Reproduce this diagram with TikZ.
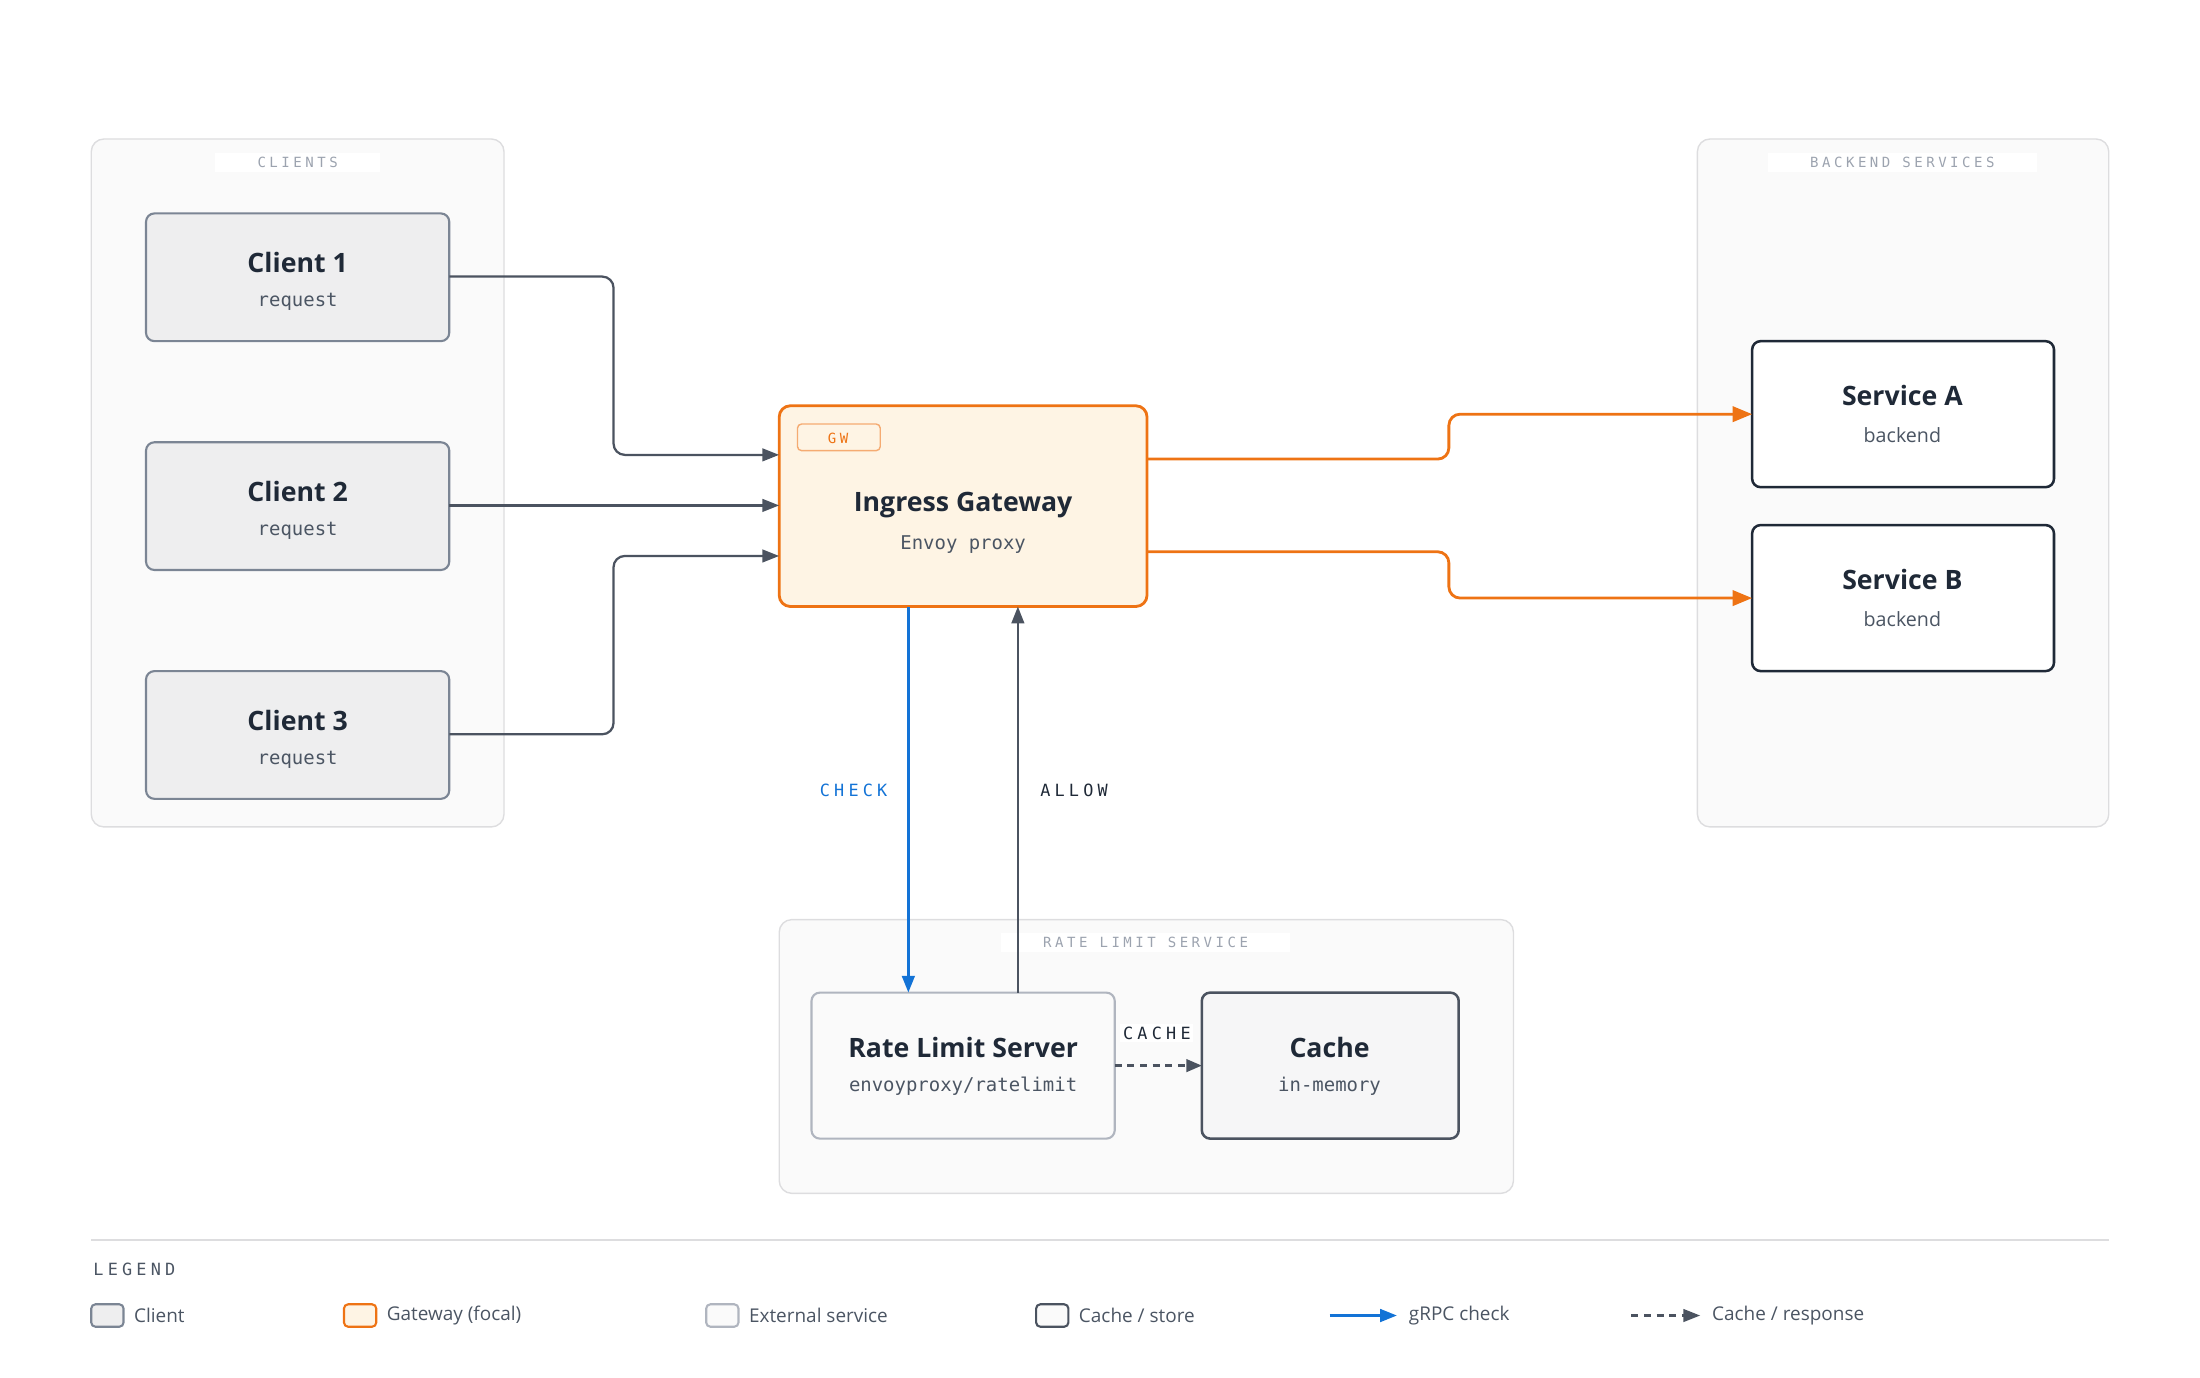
\documentclass[tikz,border=0pt]{standalone}
\usepackage{fontspec}
\setmainfont{Open Sans}
\newfontfamily\mon{DejaVu Sans Mono}
\newfontfamily\monsp{DejaVu Sans Mono}[LetterSpace=25]
\usetikzlibrary{arrows.meta}
\definecolor{ink}{HTML}{1F2937}
\definecolor{sub}{HTML}{4B5563}
\definecolor{edge}{HTML}{4B5360}
\definecolor{cborder}{HTML}{7B8594}
\definecolor{cfill}{HTML}{EEEEEF}
\definecolor{orng}{HTML}{EE7314}
\definecolor{ofill}{HTML}{FEF4E4}
\definecolor{blu}{HTML}{1373D6}
\definecolor{grp}{HTML}{DDDDDF}
\definecolor{grpfill}{HTML}{FAFAFA}
\definecolor{lbl}{HTML}{9CA3AF}
\begin{document}
\begin{tikzpicture}[x=1pt,y=-1pt,
 grpbox/.style={draw=grp,fill=grpfill,rounded corners=9,line width=1},
 grplbl/.style={fill=white,text=lbl,font=\monsp\fontsize{10}{12}\selectfont,inner xsep=30,inner ysep=3},
 client/.style={draw=cborder,fill=cfill,rounded corners=6,line width=1.5},
 title/.style={font=\fontsize{19}{23}\selectfont\bfseries,text=ink},
 subt/.style={font=\mon\fontsize{13.5}{16}\selectfont,text=sub},
 subs/.style={font=\fontsize{14}{16}\selectfont,text=sub},
 arr/.style={draw=edge,line width=1.6,rounded corners=8,-{Triangle[length=12,width=9]}},
 oarr/.style={draw=orng,line width=2,rounded corners=8,-{Triangle[length=14,width=11]}},
 elbl/.style={font=\monsp\fontsize{12}{14}\selectfont},
 leg/.style={font=\fontsize{13.5}{16}\selectfont,text=sub,anchor=west}]
\useasboundingbox (0,0) rectangle (1567,981.5);
% groups
\draw[grpbox] (65,99) rectangle (359,589);
\node[grplbl] (gc) at (212,116) {CLIENTS};
\draw[grpbox] (1209,99) rectangle (1502,589);
\node[grplbl] (gb) at (1355,116) {BACKEND SERVICES};
\draw[grpbox] (555,655) rectangle (1078,850);
\node[grplbl] (gr) at (816,671) {RATE LIMIT SERVICE};
% clients
\foreach \i/\y in {1/152,2/315,3/478}{
 \draw[client] (104,\y) rectangle (320,\y+91);
 \node[title] at (212,\y+35) {Client \i};
 \node[subt] at (212,\y+63) {request};
 \coordinate (c\i) at (320,\y+45);
}
% gateway
\draw[draw=orng,fill=ofill,rounded corners=8,line width=2] (555,289) rectangle (817,432);
\draw[draw=orng!60,fill=ofill,rounded corners=3,line width=1] (568,302) rectangle (627,321);
\node[text=orng,font=\monsp\fontsize{10}{12}\selectfont] (gw) at (597,312) {GW};
\node[title] (ig) at (686,360) {Ingress Gateway};
\node[subt] (ep) at (686,388) {Envoy proxy};
\coordinate (g1) at (555,324); \coordinate (g2) at (555,360); \coordinate (g3) at (555,396);
\coordinate (go1) at (817,327); \coordinate (go2) at (817,393);
% services
\draw[draw=ink,fill=white,rounded corners=6,line width=1.8] (1248,243) rectangle (1463,347);
\node[title] (sa) at (1355,282) {Service A};
\node[subs] at (1355,310) {backend};
\draw[draw=ink,fill=white,rounded corners=6,line width=1.8] (1248,374) rectangle (1463,478);
\node[title] (sb) at (1355,413) {Service B};
\node[subs] at (1355,441) {backend};
\coordinate (sA) at (1248,295); \coordinate (sB) at (1248,426);
% rate limit
\draw[draw=lbl!80,fill=grpfill,rounded corners=6,line width=1.5] (578,707) rectangle (794,811);
\node[title] (rls) at (686,746) {Rate Limit Server};
\node[subt] at (686,774) {envoyproxy/ratelimit};
\draw[draw=edge,fill=grpfill!70!cfill,rounded corners=6,line width=1.8] (856,707) rectangle (1039,811);
\node[title] (cache) at (947,746) {Cache};
\node[subt] at (947,774) {in-memory};
% connectors
\draw[arr] (c1) -- (437,197) -- (437,324) -- (g1);
\draw[arr] (c2) -- (g2);
\draw[arr] (c3) -- (437,523) -- (437,396) -- (g3);
\draw[oarr] (go1) -- (1032,327) -- (1032,295) -- (sA);
\draw[oarr] (go2) -- (1032,393) -- (1032,426) -- (sB);
\coordinate (ck0) at (647,432); \coordinate (ck1) at (647,707);
\coordinate (al0) at (725,707); \coordinate (al1) at (725,432);
\draw[draw=blu,line width=2,-{Triangle[length=12,width=9]}] (ck0) -- (ck1);
\draw[arr] (al0) -- (al1);
\node[elbl,text=blu] (chk) at (608,563) {CHECK};
\node[elbl,text=ink] (alw) at (765,563) {ALLOW};
\coordinate (d0) at (794,759); \coordinate (d1) at (856,759);
\draw[draw=edge,line width=1.6,dash pattern=on 5 off 4,-{Triangle[length=11,width=9]}] (d0) -- (d1);
\node[elbl,text=ink,fill=white,inner sep=2] (cl) at (824,736) {CACHE};
% legend
\draw[grp,line width=1.5] (65,883) -- (1502,883);
\node[anchor=west,font=\monsp\fontsize{12}{14}\selectfont,text=sub] (lg) at (63,904) {LEGEND};
\draw[draw=cborder,fill=cfill,rounded corners=3,line width=1.5] (65,929) rectangle (88,945);
\node[leg] at (92,937) {Client};
\draw[draw=orng,fill=ofill,rounded corners=3,line width=1.5] (245,929) rectangle (268,945);
\node[leg] at (272,937) {Gateway (focal)};
\draw[draw=lbl!80,fill=grpfill,rounded corners=3,line width=1.5] (503,929) rectangle (526,945);
\node[leg] at (530,937) {External service};
\draw[draw=edge,fill=grpfill,rounded corners=3,line width=1.5] (738,929) rectangle (761,945);
\node[leg] at (765,937) {Cache / store};
\coordinate (l1) at (947,937); \coordinate (l2) at (995,937);
\draw[draw=blu,line width=2,-{Triangle[length=12,width=9]}] (l1) -- (l2);
\node[leg] at (1000,937) {gRPC check};
\coordinate (l3) at (1162,937); \coordinate (l4) at (1211,937);
\draw[draw=edge,line width=1.6,dash pattern=on 5 off 4,-{Triangle[length=12,width=9]}] (l3) -- (l4);
\node[leg] at (1216,937) {Cache / response};
\end{tikzpicture}
\end{document}
